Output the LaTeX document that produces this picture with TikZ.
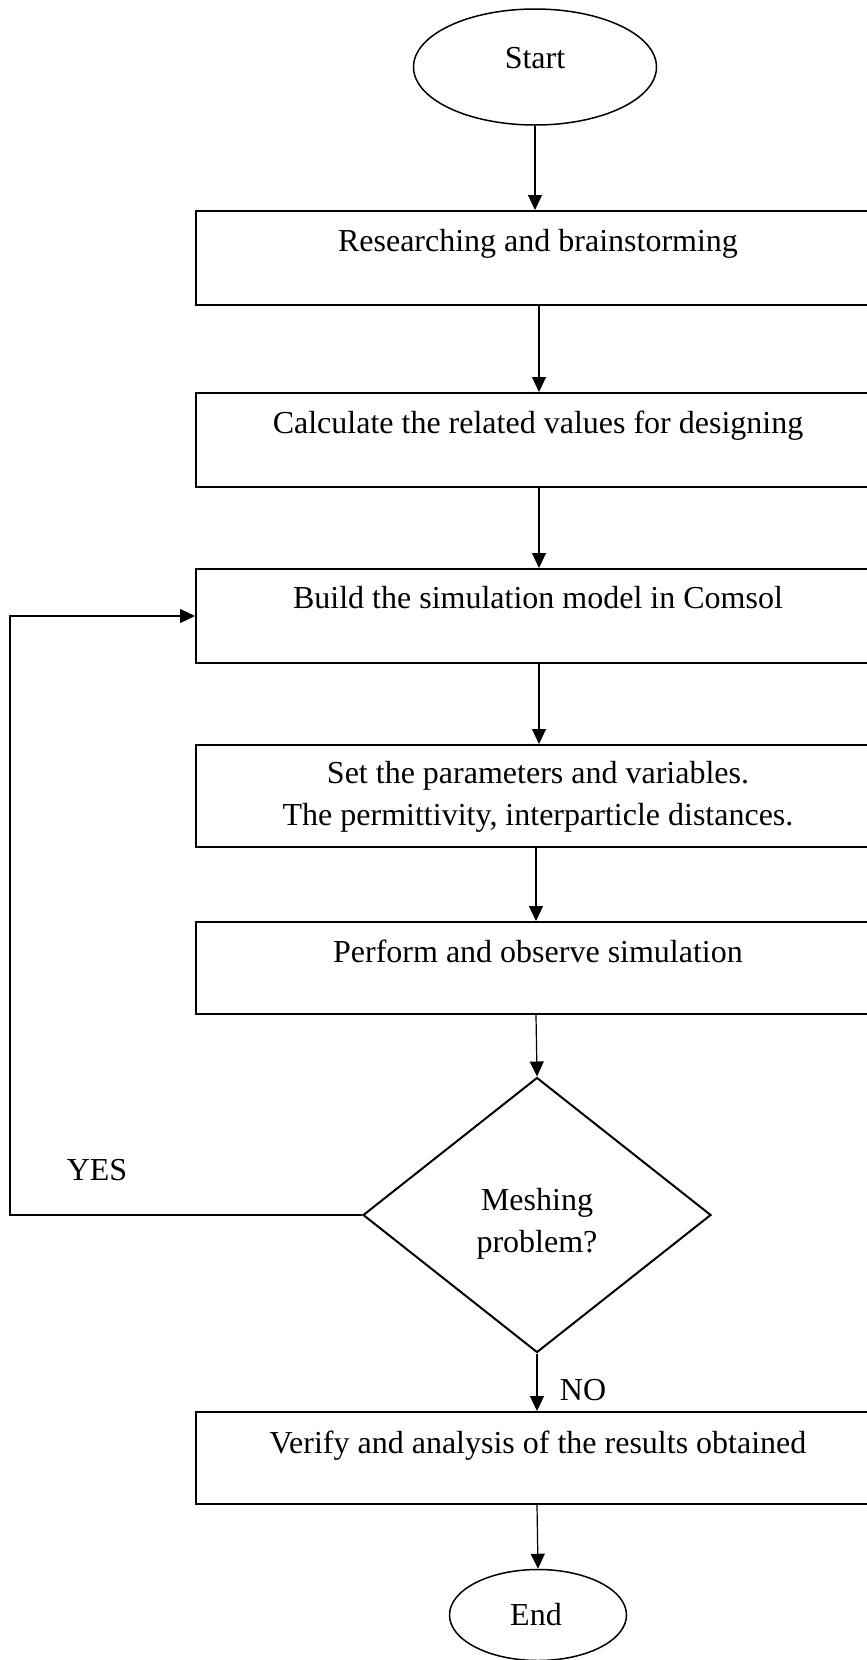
\documentclass[tikz,border=0pt]{standalone}
\usepackage{fontspec}
\setmainfont{Liberation Serif}
\usetikzlibrary{arrows.meta,shapes.geometric}
\begin{document}
\begin{tikzpicture}[x=1pt,y=-1pt,
  every node/.style={font=\fontsize{32}{40}\selectfont, inner sep=0pt},
  boxshape/.style={draw, line width=2pt, rectangle, anchor=north west},
  txt/.style={anchor=center, align=center},
  oval/.style={draw, ellipse, line width=1.5pt, inner sep=0pt},
  arr/.style={line width=1.2pt, -{Triangle[length=15pt,width=14pt]}},
  plain/.style={line width=1.2pt}
]
\useasboundingbox (0,0) rectangle (867,1660);
\clip (0,0) rectangle (867,1660);

% Start / End
\node[oval, minimum width=243pt, minimum height=116pt] (start) at (535,67) {};
\node[txt] (tstart) at (535,58) {Start};
\node[oval, minimum width=177pt, minimum height=91pt] (end) at (538,1615) {};
\node[txt] (tend) at (536,1615) {End};

% boxes
\node[boxshape, minimum width=720pt, minimum height=94pt] (b1) at (195,210) {};
\node[txt] (t1) at (538,244) {Researching and brainstorming};
\node[boxshape, minimum width=720pt, minimum height=94pt] (b2) at (195,392) {};
\node[txt] (t2) at (538,426) {Calculate the related values for designing};
\node[boxshape, minimum width=720pt, minimum height=94pt] (b3) at (195,568) {};
\node[txt] (t3) at (538,598) {Build the simulation model in Comsol};
\node[boxshape, minimum width=720pt, minimum height=102pt] (b4) at (195,744) {};
\node[txt] (t4a) at (538,776) {Set the parameters and variables.};
\node[txt] (t4b) at (538,818) {The permittivity, interparticle distances.};
\node[boxshape, minimum width=720pt, minimum height=92pt] (b5) at (195,921) {};
\node[txt] (t5) at (538,951) {Perform and observe simulation};
\node[boxshape, minimum width=720pt, minimum height=92pt] (b6) at (195,1411) {};
\node[txt] (t6) at (538,1446) {Verify and analysis of the results obtained};

% decision
\node[draw, diamond, line width=2pt, aspect=1.264, minimum width=348pt, minimum height=275pt] (d) at (537,1215) {};
\node[txt] (td) at (537,1224) {Meshing\\[2pt]problem?};

% labels
\node[txt] (yes) at (97,1170) {YES};
\node[txt] (no) at (583,1390) {NO};

% connectors
\draw[arr] (start.south) -- (start.south |- b1.north);
\coordinate (c12) at (539,0);
\draw[arr] (c12 |- b1.south) -- (c12 |- b2.north);
\draw[arr] (c12 |- b2.south) -- (c12 |- b3.north);
\draw[arr] (c12 |- b3.south) -- (c12 |- b4.north);
\coordinate (c45) at (536,0);
\draw[arr] (c45 |- b4.south) -- (c45 |- b5.north);
\draw[arr] (c45 |- b5.south) -- (d.north);
\draw[arr] (d.south) -- (d.south |- b6.north);
\coordinate (c6) at (537,0);
\draw[arr] (c6 |- b6.south) -- (end.north);
\coordinate (loop) at (10,1215);
\draw[arr] (d.west) -- (loop) |- (b3.west);
\end{tikzpicture}
\end{document}
